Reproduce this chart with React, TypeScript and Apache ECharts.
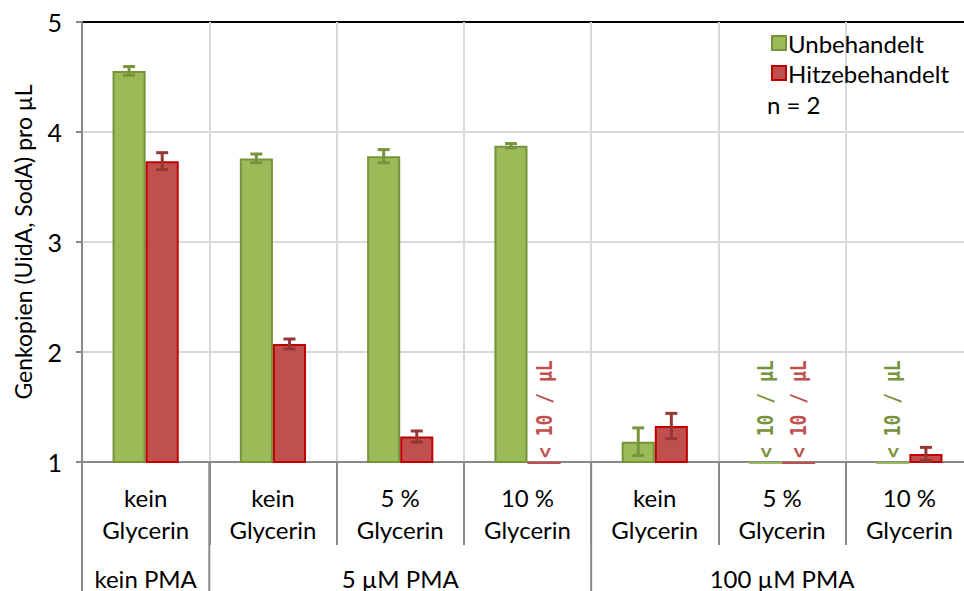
import React, { useEffect, useRef } from "react";
import * as echarts from "echarts";

const categories = [
  "kein\nGlycerin",
  "kein\nGlycerin",
  "5 %\nGlycerin",
  "10 %\nGlycerin",
  "kein\nGlycerin",
  "5 %\nGlycerin",
  "10 %\nGlycerin",
];
const groupLabels = ["kein PMA", "5 µM PMA", "100 µM PMA"];
const groupSpans = [1, 3, 3];

// null = below detection limit (< 10 / µL)
const unbehandelt = [4.555, 3.76, 3.78, 3.875, 1.185, null, null];
const unbehandeltErr = [0.04, 0.04, 0.06, 0.02, 0.125, null, null];
const hitzebehandelt = [3.735, 2.073, 1.232, null, 1.327, null, 1.073];
const hitzebehandeltErr = [0.077, 0.045, 0.05, null, 0.115, null, 0.06];

const yTicks = [1, 2, 3, 4, 5];
const limitText = "< 10 / µL";

const FONT = "Lato, 'Open Sans', sans-serif";

export default function App() {
  const ref = useRef<HTMLDivElement>(null);

  useEffect(() => {
    if (!ref.current) return;
    const chart = echarts.init(ref.current, undefined, { renderer: "svg" });

    const errData = (vals: (number | null)[], errs: (number | null)[]) =>
      vals
        .map((v, i) =>
          v === null || errs[i] === null ? null : [i, v - (errs[i] as number), v + (errs[i] as number)]
        )
        .filter((d) => d !== null);

    const makeErrSeries = (
      vals: (number | null)[],
      errs: (number | null)[],
      side: number,
      color: string
    ) => ({
      type: "custom",
      z: 5,
      data: errData(vals, errs),
      encode: { x: 0, y: [1, 2] },
      renderItem: (params: any, api: any) => {
        const idx = api.value(0);
        const lo = api.coord([idx, api.value(1)]);
        const hi = api.coord([idx, api.value(2)]);
        const band = api.size([1, 0])[0];
        const x = lo[0] + side * band * 0.13;
        const cap = 6;
        const style = { stroke: color, lineWidth: 3 };
        return {
          type: "group",
          children: [
            { type: "line", shape: { x1: x, y1: lo[1], x2: x, y2: hi[1] }, style },
            { type: "line", shape: { x1: x - cap, y1: lo[1], x2: x + cap, y2: lo[1] }, style },
            { type: "line", shape: { x1: x - cap, y1: hi[1], x2: x + cap, y2: hi[1] }, style },
          ],
        };
      },
    });

    const limitData = (vals: (number | null)[]) =>
      vals.map((v, i) => (v === null ? [i, yTicks[0]] : null)).filter((d) => d !== null);

    const makeLimitSeries = (
      vals: (number | null)[],
      side: number,
      textColor: string,
      lineColor: string
    ) => ({
      type: "custom",
      z: 6,
      clip: false,
      data: limitData(vals),
      encode: { x: 0, y: 1 },
      renderItem: (params: any, api: any) => {
        const p = api.coord([api.value(0), api.value(1)]);
        const band = api.size([1, 0])[0];
        const bw = band * 0.26;
        const cx = p[0] + side * bw / 2;
        return {
          type: "group",
          children: [
            {
              type: "rect",
              shape: { x: cx - bw / 2, y: p[1], width: bw, height: 2 },
              style: { fill: lineColor },
            },
            {
              type: "text",
              x: cx,
              y: p[1] - 4,
              rotation: Math.PI / 2,
              scaleX: 0.82,
              style: {
                text: limitText,
                align: "left",
                verticalAlign: "middle",
                fill: textColor,
                fontFamily: "'DejaVu Sans Mono', monospace",
                fontWeight: "bold",
                fontSize: 22,
              },
            },
          ],
        };
      },
    });

    const option: any = {
      animation: false,
      textStyle: { fontFamily: FONT },
      grid: {
        left: 82,
        top: 22,
        width: 891,
        height: 440,
        containLabel: false,
        outerBoundsMode: "none",
      },
      legend: {
        orient: "vertical",
        left: 766,
        top: 25,
        itemWidth: 14,
        itemHeight: 14,
        itemGap: 4,
        icon: "rect",
        textStyle: {
          fontSize: 24,
          lineHeight: 26,
          color: "#000",
          fontFamily: FONT,
          padding: [0, 0, 0, -3],
        },
        data: ["Unbehandelt", "Hitzebehandelt"],
      },
      xAxis: {
        type: "category",
        data: categories,
        axisLine: { lineStyle: { color: "#898989", width: 2 } },
        axisTick: { show: true, length: 83, lineStyle: { color: "#898989", width: 2 } },
        axisLabel: {
          interval: 0,
          fontSize: 24,
          lineHeight: 32,
          color: "#000",
          margin: 19,
          fontFamily: FONT,
        },
        splitLine: { show: true, lineStyle: { color: "#D9D9D9", width: 2 } },
      },
      yAxis: {
        type: "value",
        min: 1,
        max: 5,
        interval: 1,
        name: "Genkopien (UidA, SodA) pro µL",
        nameLocation: "middle",
        nameGap: 48,
        nameTextStyle: { fontSize: 23, color: "#000", fontFamily: FONT },
        axisLine: { show: true, lineStyle: { color: "#898989", width: 2 } },
        axisTick: { show: true, length: 6, lineStyle: { color: "#898989", width: 2 } },
        axisLabel: { fontSize: 25, color: "#000", margin: 20, fontFamily: FONT },
        splitLine: {
          lineStyle: {
            color: ["#D9D9D9", "#D9D9D9", "#D9D9D9", "#D9D9D9", "#000000"],
            width: 2,
          },
        },
      },
      series: [
        {
          name: "Unbehandelt",
          type: "bar",
          barWidth: "26%",
          barGap: "0%",
          data: unbehandelt.map((v) => (v === null ? "-" : v)),
          itemStyle: { color: "#9BBB59", borderColor: "#77933C", borderWidth: 2 },
        },
        {
          name: "Hitzebehandelt",
          type: "bar",
          barWidth: "26%",
          barGap: "0%",
          data: hitzebehandelt.map((v) => (v === null ? "-" : v)),
          itemStyle: { color: "#C0504D", borderColor: "#C00000", borderWidth: 2 },
        },
        makeErrSeries(unbehandelt, unbehandeltErr, -1, "#77933C"),
        makeErrSeries(hitzebehandelt, hitzebehandeltErr, 1, "#953735"),
        makeLimitSeries(unbehandelt, -1, "#77933C", "#9BBB59"),
        makeLimitSeries(hitzebehandelt, 1, "#C0504D", "#C0504D"),
      ],
    };

    chart.setOption(option);

    // group labels and separators from the axis scale
    const c0 = chart.convertToPixel({ xAxisIndex: 0 }, 0) as number;
    const c1 = chart.convertToPixel({ xAxisIndex: 0 }, 1) as number;
    const band = c1 - c0;
    const yBase = chart.convertToPixel({ yAxisIndex: 0 }, yTicks[0]) as number;
    const graphics: any[] = [];
    let start = 0;
    groupSpans.forEach((span, gi) => {
      const left = c0 - band / 2 + start * band;
      const right = left + span * band;
      graphics.push({
        type: "line",
        shape: { x1: left, y1: yBase, x2: left, y2: 600 },
        style: { stroke: "#898989", lineWidth: 2 },
        z: 10,
      });
      graphics.push({
        type: "text",
        x: (left + right) / 2,
        y: 578,
        style: {
          text: groupLabels[gi],
          fontSize: 24,
          fontFamily: FONT,
          fill: "#000",
          align: "center",
          verticalAlign: "middle",
        },
      });
      start += span;
    });
    graphics.push({
      type: "text",
      x: 767,
      y: 104,
      style: {
        text: "n = 2",
        fontSize: 24,
        fontFamily: FONT,
        fill: "#000",
        align: "left",
        verticalAlign: "middle",
      },
    });
    chart.setOption({ graphic: graphics });

    return () => chart.dispose();
  }, []);

  return (
    <div
      ref={ref}
      style={{ position: "absolute", left: 0, top: 0, width: 964, height: 591 }}
    />
  );
}
